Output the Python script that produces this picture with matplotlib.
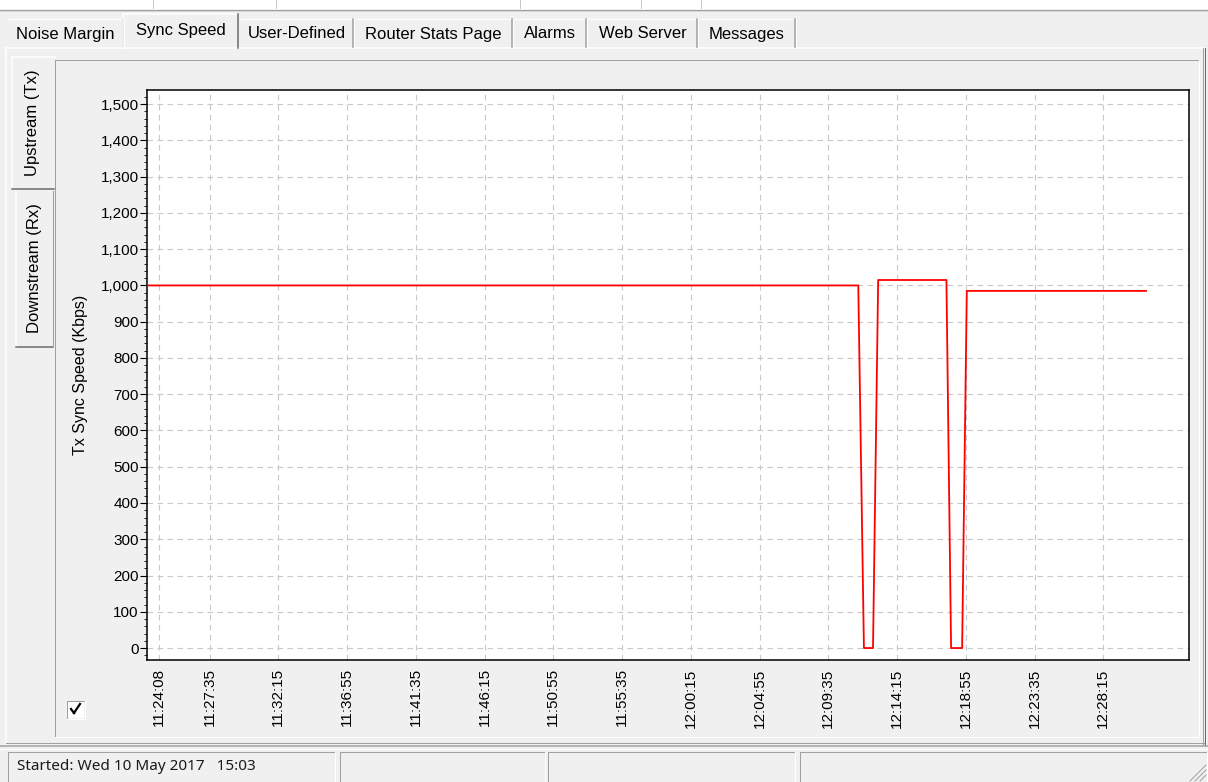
import matplotlib
matplotlib.use("Agg")
import matplotlib.pyplot as plt
from matplotlib.patches import Rectangle
from matplotlib.lines import Line2D
from matplotlib.ticker import MultipleLocator, StrMethodFormatter

# Tx sync speed samples (time of day, Kbps)
sample_times = ["11:23:20", "12:11:37", "12:12:00", "12:12:37", "12:12:58",
                "12:17:36", "12:17:55", "12:18:40", "12:18:59", "12:31:09"]
sample_speeds = [1000, 1000, 0, 0, 1015, 1015, 0, 0, 985, 985]

tick_labels = ["11:24:08", "11:27:35", "11:32:15", "11:36:55", "11:41:35",
               "11:46:15", "11:50:55", "11:55:35", "12:00:15", "12:04:55",
               "12:09:35", "12:14:15", "12:18:55", "12:23:35", "12:28:15"]

tab_names = ["Noise Margin", "Sync Speed", "User-Defined", "Router Stats Page",
             "Alarms", "Web Server", "Messages"]
side_tabs = ["Upstream (Tx)", "Downstream (Rx)"]
status_text = "Started: Wed 10 May 2017   15:03"


def secs(t):
    h, m, s = t.split(":")
    return int(h) * 3600 + int(m) * 60 + int(s)


W, H = 1208, 782
plt.rcParams["font.family"] = ["Liberation Sans", "DejaVu Sans"]
fig = plt.figure(figsize=(W / 100, H / 100), dpi=100, facecolor="#f0f0f0")


def fx(x):
    return x / W


def fy(y):
    return 1 - y / H


def line(x0, y0, x1, y1, color, lw=1.0):
    fig.add_artist(Line2D([fx(x0), fx(x1)], [fy(y0), fy(y1)],
                          transform=fig.transFigure, color=color, lw=lw * 0.72))


def box(x0, y0, x1, y1, fc, ec="none"):
    fig.add_artist(Rectangle((fx(x0), fy(y1)), (x1 - x0) / W, (y1 - y0) / H,
                             transform=fig.transFigure, facecolor=fc,
                             edgecolor=ec, lw=0.72))


def sunken(x0, y0, x1, y1):
    line(x0, y0, x1, y0, "#a0a0a0")
    line(x0, y0, x0, y1, "#a0a0a0")
    line(x0, y1, x1, y1, "#ffffff")
    line(x1, y0, x1, y1, "#ffffff")


# top strip
box(0, 0, W, 9, "#ffffff")
for x in [153, 276, 520, 641, 701]:
    line(x, 0, x, 8, "#c8c8c8")
line(0, 10, W, 10, "#a0a0a0")
line(0, 11, W, 11, "#d8d8d8")

# outer tab page
line(6, 48, 1204, 48, "#ffffff", 1.5)
line(6, 48, 6, 745, "#ffffff", 1.5)
line(1203, 48, 1203, 745, "#a0a0a0")
line(1205, 48, 1205, 745, "#696969")
line(6, 743, 1204, 743, "#a0a0a0")
line(0, 746, W, 746, "#a0a0a0", 1.5)
line(0, 749, W, 749, "#ffffff")

# tabs
tab_edges = [(8, 123), (123, 238), (240, 353), (355, 512), (514, 586), (588, 697), (699, 795)]
for name, (x0, x1) in zip(tab_names, tab_edges):
    if name == "Sync Speed":
        box(x0, 14, x1, 49, "#f0f0f0")
        line(x0, 14, x1, 14, "#ffffff", 1.5)
        line(x0, 14, x0, 48, "#ffffff", 1.5)
        line(x1, 14, x1, 48, "#696969", 1.5)
        fig.text(fx((x0 + x1) / 2), fy(31), name, ha="center", va="center", fontsize=12)
    else:
        line(x0 + 1, 19, x1 - 1, 19, "#ffffff")
        line(x1, 19, x1, 47, "#a0a0a0", 1.5)
        line(x1 + 1, 19, x1 + 1, 47, "#ffffff")
        fig.text(fx((x0 + x1) / 2), fy(34), name, ha="center", va="center", fontsize=12)

# chart frame
sunken(55, 60, 1199, 737)

# side tabs
box(12, 57, 55, 189, "#f0f0f0")
line(12, 57, 55, 57, "#ffffff", 1.5)
line(12, 57, 12, 189, "#ffffff", 1.5)
line(12, 189, 54, 189, "#696969", 1.5)
fig.text(fx(32), fy(123), side_tabs[0], rotation=90, ha="center", va="center", fontsize=12)
line(16, 191, 16, 347, "#ffffff", 1.5)
line(16, 347, 53, 347, "#696969", 1.5)
line(53, 191, 53, 347, "#a0a0a0")
fig.text(fx(35), fy(268), side_tabs[1], rotation=90, ha="center", va="center", fontsize=12)

# checkbox
box(68, 702, 84, 718, "#ffffff")
sunken(67, 701, 85, 719)
line(71, 709, 74, 713, "#000000", 2.2)
line(74, 713, 80, 704, "#000000", 2.2)

# status bar
for x0, x1 in [(8, 335), (340, 545), (548, 795), (800, 1207)]:
    sunken(x0, 752, x1, 790)
fig.text(fx(17), fy(767), status_text, ha="left", va="center", fontsize=11,
         family=["Noto Sans", "DejaVu Sans"], color="#1a1a1a")
for k in range(3):
    line(1190 + k * 5, 781, 1206, 765 + k * 5, "#a0a0a0")

# the chart
ax = fig.add_axes([fx(147), fy(660), (1189 - 147) / W, (660 - 90) / H])
ax.set_facecolor("#ffffff")
t = [secs(s) for s in sample_times]
ax.plot(t, sample_speeds, color="#ff0000", lw=1.3, zorder=3)

ax.set_xlim(41000, 45244)
ax.set_ylim(-33, 1539)
ax.set_xticks([secs(s) for s in tick_labels])
ax.set_xticklabels(tick_labels, rotation=90, fontsize=11)
ax.yaxis.set_major_locator(MultipleLocator(100))
ax.yaxis.set_minor_locator(MultipleLocator(20))
ax.yaxis.set_major_formatter(StrMethodFormatter("{x:,.0f}"))
ax.tick_params(axis="y", labelsize=11, length=5, width=0.8, direction="out", pad=1)
ax.tick_params(axis="y", which="minor", length=2.5, width=0.6)
ax.tick_params(axis="x", length=0, pad=6)
ax.set_ylabel("Tx Sync Speed (Kbps)", fontsize=11.5, labelpad=9)
ax.grid(True, color="#c8c8c8", lw=0.8, linestyle=(0, (5, 4)))
for sp in ax.spines.values():
    sp.set_linewidth(1.1)
    sp.set_color("#000000")

fig.savefig("out.png", dpi=100, facecolor=fig.get_facecolor())
